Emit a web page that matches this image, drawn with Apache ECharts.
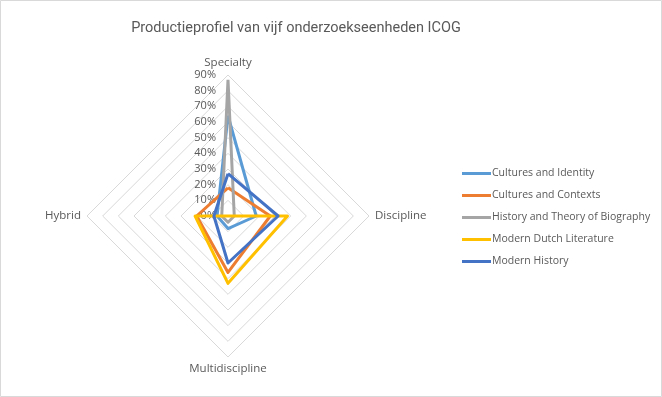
<!DOCTYPE html>
<html>
<head>
<meta charset="utf-8">
<script src="https://cdn.jsdelivr.net/npm/echarts@6/dist/echarts.min.js"></script>
<style>
    html, body { margin: 0; padding: 0; background: #fff; }
    #chart { width: 662px; height: 397px; }
</style>
</head>
<body>
<div id="chart"></div>
<script>
(function () {
    'use strict';

    // indicators, in ECharts drawing order (counter-clockwise from the top)
    var indicators = ['Specialty', 'Hybrid', 'Multidiscipline', 'Discipline'];
    var tickLabels = ['0%', '10%', '20%', '30%', '40%', '50%', '60%', '70%', '80%', '90%'];

    var seriesNames = [
        'Cultures and Identity',
        'Cultures and Contexts',
        'History and Theory of Biography',
        'Modern Dutch Literature',
        'Modern History'
    ];
    // values in %, same order as indicators
    var culturesIdentity = [64, 7, 8, 18];
    var culturesContexts = [18, 20, 36, 27];
    var historyBiography = [87, 4, 4, 4];
    var modernDutchLit = [0, 21, 43, 38];
    var modernHistory = [27, 9, 30, 32];

    var colors = ['#5B9BD5', '#ED7D31', '#A5A5A5', '#FFC000', '#4472C4'];
    var values = [culturesIdentity, culturesContexts, historyBiography, modernDutchLit, modernHistory];

    var chart = echarts.init(document.getElementById('chart'));

    var font = 'Open Sans';
    var textColor = '#595959';

    chart.setOption({
        animation: false,
        backgroundColor: '#fff',
        title: {
            text: 'Productieprofiel van vijf onderzoekseenheden ICOG',
            left: 291,
            top: 16,
            textAlign: 'center',
            textStyle: { fontFamily: 'Roboto', fontSize: 14.5, fontWeight: 'normal', color: textColor }
        },
        legend: {
            orient: 'vertical',
            left: 462,
            top: 168,
            padding: 0,
            itemWidth: 29,
            itemHeight: 3,
            itemGap: 11,
            icon: 'rect',
            data: seriesNames,
            textStyle: { fontFamily: font, fontSize: 10.5, color: textColor, padding: [0, 0, 0, -4] }
        },
        radar: {
            center: [228, 216],
            radius: 141,
            shape: 'polygon',
            splitNumber: 9,
            indicator: indicators.map(function (name, i) {
                var ind = { name: name, min: 0, max: 90 };
                if (i !== 0) ind.axisLabel = { show: false };
                return ind;
            }),
            axisName: { color: textColor, fontFamily: font, fontSize: 11.5 },
            nameGap: 6,
            axisLine: { show: false },
            splitArea: { show: false },
            splitLine: { lineStyle: { color: '#d9d9d9', width: 1 } },
            axisLabel: {
                show: true,
                fontFamily: font,
                fontSize: 11,
                color: textColor,
                margin: 12,
                formatter: function (v) { return tickLabels[Math.round(v / 10)]; }
            }
        },
        series: [{
            type: 'radar',
            symbol: 'none',
            data: seriesNames.map(function (name, i) {
                return {
                    name: name,
                    value: values[i],
                    lineStyle: { color: colors[i], width: 3 },
                    itemStyle: { color: colors[i] }
                };
            })
        }],
        graphic: [{
            type: 'rect',
            shape: { x: 0.5, y: 0.5, width: 661, height: 396 },
            style: { fill: 'none', stroke: '#d9d9d9', lineWidth: 1 },
            silent: true
        }]
    });
})();
</script>
</body>
</html>
